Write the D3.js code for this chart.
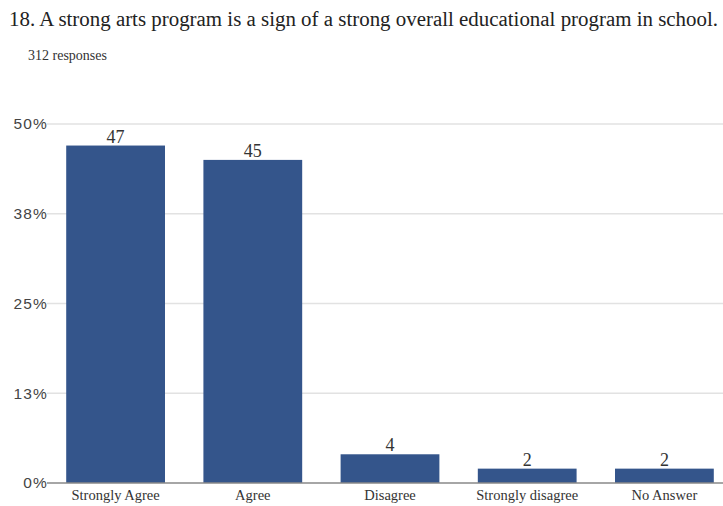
<!DOCTYPE html>
<html><head><meta charset="utf-8">
<script src="https://cdn.jsdelivr.net/npm/d3@7"></script>
<style>body{margin:0;background:#fff} .serif{font-family:"Liberation Serif","Times New Roman",serif} .sans{font-family:"Liberation Sans",Arial,sans-serif}</style>
</head><body>
<svg id="c" width="723" height="506"></svg>
<script>
const categories = ["Strongly Agree","Agree","Disagree","Strongly disagree","No Answer"];
const values = [47,45,4,2,2];
const tickValues = [0,12.5,25,37.5,50];
const tickLabels = ["0%","13%","25%","38%","50%"];
const title = "18. A strong arts program is a sign of a strong overall educational program in school.";
const subtitle = "312 responses";

const svg = d3.select("#c");
const x = d3.scaleBand().domain(categories).range([47,733]).paddingInner(0.28).paddingOuter(0.14);
const y = d3.scaleLinear().domain([0,50]).range([483,124]);

svg.append("text").attr("class","serif").attr("x",9).attr("y",26).attr("font-size",20.5).attr("fill","#222")
  .attr("textLength",709).attr("lengthAdjust","spacingAndGlyphs").text(title);
svg.append("text").attr("class","serif").attr("x",28).attr("y",60).attr("font-size",14).attr("fill","#333").text(subtitle);

// gridlines
svg.append("g").selectAll("line").data(tickValues.slice(1)).join("line")
  .attr("x1",47).attr("x2",723).attr("y1",d=>y(d)).attr("y2",d=>y(d))
  .attr("stroke","#e2e2e2").attr("stroke-width",1.5);

const yAxis = d3.axisLeft(y).tickValues(tickValues).tickFormat((d,i)=>tickLabels[i]).tickSize(0).tickPadding(0);
const gy = svg.append("g").attr("transform","translate(48,0)").call(yAxis);
gy.select(".domain").remove();
gy.attr("font-family",null);
gy.selectAll("text").attr("class","sans").attr("font-size",15.5).attr("fill","#444")
  .attr("letter-spacing",1.2);

svg.append("g").selectAll("rect").data(values).join("rect")
  .attr("x",(d,i)=>x(categories[i])).attr("width",x.bandwidth())
  .attr("y",d=>y(d)).attr("height",d=>y(0)-y(d)).attr("fill","#34558b");

svg.append("g").selectAll("text").data(values).join("text")
  .attr("class","serif")
  .attr("x",(d,i)=>x(categories[i])+x.bandwidth()/2).attr("y",d=>y(d)-3)
  .attr("text-anchor","middle").attr("font-size",18).attr("fill","#333")
  .text(d=>d);

const xAxis = d3.axisBottom(x).tickSize(0).tickPadding(7);
const gx = svg.append("g").attr("transform","translate(0,483)").call(xAxis);
gx.attr("font-family",null);
gx.select(".domain").attr("stroke","#888").attr("stroke-width",1.5).attr("d","M47,0H723");
gx.selectAll("text").attr("class","serif").attr("font-size",14.5).attr("fill","#333");
</script>
</body></html>
